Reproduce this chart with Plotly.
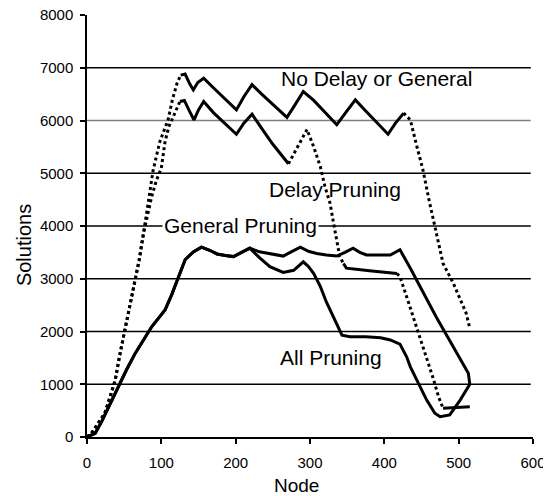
import plotly.graph_objects as go

# ---------------- data ----------------
nodes_no_delay = [0, 6, 15, 24, 31, 38, 44, 51, 58, 65, 70, 76, 82, 89, 98, 109, 115, 121, 126, 132,
                  138, 143, 149, 157, 170, 185, 201, 211, 222, 235, 250, 269, 280, 291, 305, 320, 336, 348, 361, 375,
                  390, 405, 415, 426, 435, 443, 452, 460, 468, 479, 493, 502, 510, 515]
sol_no_delay = [0, 70, 260, 450, 760, 1080, 1550, 2030, 2500, 2980, 3340, 3860, 4450, 5060, 5600, 6010, 6400, 6700, 6860, 6880,
                6700, 6580, 6720, 6800, 6620, 6420, 6200, 6450, 6680, 6500, 6300, 6060, 6300, 6550, 6380, 6150, 5920, 6150, 6390, 6180,
                5960, 5740, 5950, 6140, 6010, 5550, 5060, 4500, 3990, 3290, 2910, 2600, 2350, 2060]

nodes_delay = [0, 6, 15, 24, 31, 38, 44, 51, 58, 65, 70, 76, 82, 87, 93, 100, 105, 110, 116, 125,
               131, 137, 144, 150, 157, 170, 185, 201, 211, 222, 235, 250, 271, 283, 296, 305, 314, 320, 327, 331,
               336, 340, 345, 349, 380, 417, 421, 430, 444, 448, 457, 466, 473, 479, 486, 502, 515]
sol_delay = [0, 70, 260, 450, 760, 1080, 1550, 2030, 2500, 2980, 3340, 3860, 4250, 4555, 4850, 5100, 5600, 5880, 6070, 6360,
             6380, 6200, 6010, 6200, 6360, 6150, 5950, 5740, 5950, 6120, 5850, 5550, 5180, 5500, 5830, 5500, 5120, 4750, 4430, 4110,
             3740, 3420, 3290, 3200, 3150, 3100, 3040, 2660, 2070, 1880, 1490, 1100, 760, 545, 550, 575, 575]

nodes_general = [0, 11, 20, 30, 42, 53, 65, 76, 87, 96, 105, 114, 123, 132, 143, 154, 165, 175, 186, 197,
                 208, 219, 232, 246, 264, 276, 287, 298, 309, 322, 336, 347, 358, 367, 376, 408, 421, 435, 448, 457,
                 470, 485, 500, 513, 515]
sol_general = [0, 70, 300, 600, 950, 1270, 1590, 1850, 2090, 2250, 2410, 2700, 3040, 3360, 3510, 3600, 3540, 3470, 3440, 3420,
               3500, 3580, 3510, 3470, 3430, 3520, 3600, 3520, 3480, 3450, 3430, 3500, 3580, 3500, 3450, 3450, 3550, 3200, 2860, 2600,
               2270, 1900, 1530, 1210, 1000]

nodes_all = [0, 11, 20, 30, 42, 53, 65, 76, 87, 96, 105, 114, 123, 132, 143, 154, 165, 175, 186, 197,
             208, 219, 232, 246, 264, 278, 291, 298, 305, 314, 322, 331, 343, 354, 375, 395, 408, 421, 430, 435,
             444, 457, 468, 475, 488, 502, 515]
sol_all = [0, 70, 300, 600, 950, 1270, 1590, 1850, 2090, 2250, 2410, 2700, 3040, 3360, 3510, 3600, 3540, 3470, 3440, 3420,
           3500, 3580, 3400, 3230, 3120, 3160, 3320, 3230, 3100, 2850, 2560, 2280, 1930, 1900, 1900, 1880, 1840, 1760, 1520, 1330,
           1080, 700, 450, 385, 420, 700, 1000]

x_ticks = [0, 100, 200, 300, 400, 500, 600]
y_ticks = [0, 1000, 2000, 3000, 4000, 5000, 6000, 7000, 8000]
grid_values = [1000, 2000, 3000, 4000, 5000, 6000, 7000]

labels = ["No Delay or General", "Delay Pruning", "General Pruning", "All Pruning"]
label_x = [390, 334, 206, 328]
label_y = [6787, 4700, 4019, 1500]

# ---------------- styling ----------------
FONT = "Liberation Sans, Arial, sans-serif"
DOT = "3px,3px"
series = [
    (nodes_no_delay, sol_no_delay, [(0, 127), (430, 520)]),
    (nodes_delay, sol_delay, [(0, 126), (271, 345), (417, 480)]),
    (nodes_general, sol_general, []),
    (nodes_all, sol_all, []),
]


def runs(xs, ys, dotted):
    flags = []
    for i in range(len(xs) - 1):
        m = 0.5 * (xs[i] + xs[i + 1])
        flags.append(any(a <= m <= b for a, b in dotted))
    out = []
    start = 0
    for i in range(1, len(flags) + 1):
        if i == len(flags) or flags[i] != flags[start]:
            out.append((xs[start:i + 1], ys[start:i + 1], flags[start]))
            start = i
    return out


fig = go.Figure()
for xs, ys, dotted in series:
    for rx, ry, is_dot in runs(xs, ys, dotted):
        fig.add_trace(go.Scatter(
            x=rx, y=ry, mode="lines",
            line=dict(color="black", width=3, dash=DOT if is_dot else "solid"),
            showlegend=False, hoverinfo="skip"))

shapes = []
for g in grid_values:
    shapes.append(dict(type="line", xref="paper", yref="y", x0=0, x1=0.995, y0=g, y1=g,
                       line=dict(color="#808080" if g == 6000 else "black", width=1.3), layer="below"))

annotations = []
for t, ax_, ay_ in zip(labels, label_x, label_y):
    a = dict(text=t, x=ax_, y=ay_, xref="x", yref="y", showarrow=False,
             xanchor="center", yanchor="middle",
             font=dict(family=FONT, size=21, color="black"))
    if t == "General Pruning":
        a.update(bgcolor="white", borderpad=1)
    annotations.append(a)
annotations.append(dict(text="Node", xref="paper", yref="paper", x=0.470, y=-0.116,
                        xanchor="center", yanchor="middle",
                        showarrow=False, font=dict(family=FONT, size=19, color="black")))
annotations.append(dict(text="Solutions", xref="paper", yref="paper", x=-0.141, y=0.455, textangle=-90,
                        xanchor="center", yanchor="middle",
                        showarrow=False, font=dict(family=FONT, size=20, color="black")))

axis_common = dict(showline=True, linecolor="black", linewidth=1.5, ticks="outside", ticklen=5,
                   tickwidth=1.5, tickcolor="black", showgrid=False, zeroline=False, automargin=False,
                   ticklabeloverflow="allow",
                   tickfont=dict(family=FONT, size=15, color="black"))

# the page body adds an 8px offset, so the figure is sized 8px smaller on both axes
fig.update_layout(
    width=543, height=488, autosize=False,
    margin=dict(l=79, r=18, t=7, b=59),
    paper_bgcolor="white", plot_bgcolor="white",
    xaxis=dict(range=[0, 600], tickvals=x_ticks, ticklabelstandoff=6, **axis_common),
    yaxis=dict(range=[0, 8000], tickvals=y_ticks, ticklabelstandoff=4, **axis_common),
    shapes=shapes, annotations=annotations,
)

fig.write_html("out.html")
